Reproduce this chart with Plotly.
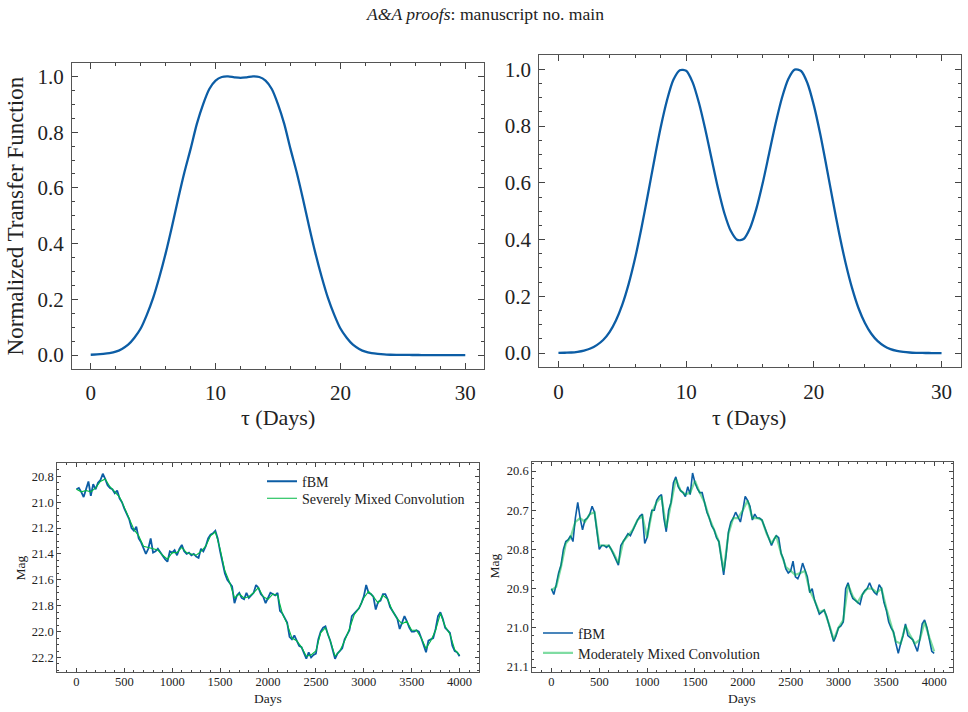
import plotly.graph_objects as go

# ---------------- data ----------------
tau_days = [i * 0.5 for i in range(61)]
tf_severe = [0.001, 0.002, 0.004, 0.007, 0.012, 0.022, 0.037, 0.062, 0.095, 0.145,
             0.205, 0.28, 0.365, 0.46, 0.56, 0.655, 0.74, 0.83, 0.90, 0.955,
             0.985, 0.998, 1.0, 0.997, 0.995, 0.997, 1.0, 0.998, 0.985, 0.955,
             0.90, 0.83, 0.74, 0.655, 0.56, 0.46, 0.365, 0.28, 0.205, 0.145,
             0.095, 0.062, 0.037, 0.022, 0.012, 0.007, 0.004, 0.002, 0.001, 0.0005,
             0.0003, 0.0002, 0.0001, 0.0, 0.0, 0.0, 0.0, 0.0, 0.0, 0.0, 0.0]
tf_moderate = [0.0005, 0.0012, 0.002, 0.0046, 0.009, 0.016, 0.028, 0.046, 0.074, 0.115,
               0.171, 0.244, 0.334, 0.441, 0.558, 0.679, 0.794, 0.891, 0.963, 0.997,
               0.995, 0.955, 0.882, 0.788, 0.683, 0.580, 0.492, 0.430, 0.399, 0.402,
               0.44, 0.509, 0.600, 0.704, 0.808, 0.899, 0.966, 0.999, 0.994, 0.951,
               0.873, 0.772, 0.655, 0.534, 0.418, 0.315, 0.228, 0.158, 0.106, 0.068,
               0.042, 0.025, 0.014, 0.0077, 0.004, 0.002, 0.001, 0.0005, 0.0002, 0.0001, 0.0]

days_fbm = list(range(0, 4001, 25))
days_conv = list(range(0, 4001, 50))

fbm_left = [20.90, 20.89, 20.92, 20.96, 20.90, 20.84, 20.95, 20.86, 20.90, 20.85,
            20.83, 20.78, 20.82, 20.87, 20.89, 20.90, 20.93, 20.91, 20.97, 21.00,
            21.05, 21.09, 21.13, 21.20, 21.22, 21.19, 21.28, 21.31, 21.35, 21.40,
            21.36, 21.28, 21.39, 21.38, 21.36, 21.39, 21.41, 21.44, 21.46, 21.38,
            21.39, 21.37, 21.41, 21.36, 21.33, 21.38, 21.40, 21.39, 21.41, 21.40,
            21.42, 21.43, 21.36, 21.38, 21.34, 21.28, 21.25, 21.24, 21.22, 21.28,
            21.38, 21.46, 21.55, 21.60, 21.63, 21.65, 21.78, 21.72, 21.70, 21.74,
            21.75, 21.70, 21.74, 21.72, 21.70, 21.64, 21.66, 21.71, 21.73, 21.78,
            21.74, 21.70, 21.71, 21.72, 21.70, 21.84, 21.86, 21.89, 21.93, 22.04,
            22.06, 22.03, 22.07, 22.11, 22.12, 22.17, 22.21, 22.16, 22.20, 22.18,
            22.17, 22.06, 22.00, 21.97, 21.96, 22.02, 22.07, 22.14, 22.21, 22.17,
            22.15, 22.13, 22.06, 22.03, 21.99, 21.88, 21.86, 21.84, 21.82, 21.78,
            21.73, 21.64, 21.70, 21.71, 21.73, 21.83, 21.77, 21.76, 21.71, 21.71,
            21.75, 21.81, 21.84, 21.86, 21.90, 21.98, 21.93, 21.88, 21.92, 21.97,
            22.00, 22.00, 21.99, 22.00, 22.05, 22.10, 22.16, 22.07, 22.06, 22.05,
            21.98, 21.88, 21.85, 21.90, 21.97, 21.99, 22.01, 22.11, 22.15, 22.16,
            22.19]
conv_left = [20.90, 20.92, 20.91, 20.92, 20.89, 20.84, 20.82, 20.88, 20.92, 20.96,
             21.04, 21.12, 21.21, 21.26, 21.34, 21.35, 21.36, 21.37, 21.41, 21.44,
             21.39, 21.39, 21.35, 21.39, 21.40, 21.41, 21.38, 21.34, 21.26, 21.23,
             21.36, 21.53, 21.62, 21.74, 21.71, 21.74, 21.73, 21.70, 21.66, 21.73,
             21.75, 21.71, 21.72, 21.86, 21.94, 22.05, 22.07, 22.12, 22.19, 22.18,
             22.15, 22.01, 21.97, 22.07, 22.19, 22.15, 22.07, 21.98, 21.87, 21.82,
             21.74, 21.69, 21.73, 21.78, 21.72, 21.75, 21.84, 21.90, 21.94, 21.92,
             21.99, 21.99, 22.05, 22.13, 22.07, 21.99, 21.86, 21.96, 22.02, 22.14,
             22.18]

fbm_right = [20.90, 20.915, 20.89, 20.86, 20.84, 20.80, 20.78, 20.775, 20.765, 20.78,
             20.72, 20.68, 20.72, 20.75, 20.725, 20.72, 20.71, 20.69, 20.705, 20.755,
             20.80, 20.79, 20.79, 20.795, 20.79, 20.80, 20.815, 20.83, 20.84, 20.79,
             20.78, 20.77, 20.76, 20.765, 20.75, 20.74, 20.725, 20.715, 20.71, 20.785,
             20.77, 20.73, 20.70, 20.70, 20.675, 20.665, 20.66, 20.72, 20.755, 20.70,
             20.68, 20.63, 20.615, 20.64, 20.65, 20.655, 20.665, 20.64, 20.66, 20.605,
             20.63, 20.645, 20.655, 20.655, 20.68, 20.705, 20.72, 20.74, 20.75, 20.77,
             20.78, 20.82, 20.865, 20.815, 20.755, 20.73, 20.72, 20.705, 20.72, 20.73,
             20.70, 20.665, 20.675, 20.69, 20.725, 20.71, 20.72, 20.72, 20.725, 20.74,
             20.76, 20.775, 20.79, 20.775, 20.765, 20.77, 20.81, 20.825, 20.85, 20.86,
             20.855, 20.83, 20.87, 20.875, 20.86, 20.835, 20.855, 20.87, 20.91, 20.90,
             20.93, 20.945, 20.965, 20.96, 20.955, 20.97, 20.99, 21.01, 21.035, 21.02,
             21.00, 20.995, 20.985, 20.90, 20.885, 20.91, 20.925, 20.93, 20.935, 20.94,
             20.915, 20.905, 20.90, 20.885, 20.90, 20.91, 20.915, 20.89, 20.90, 20.935,
             20.955, 20.985, 21.00, 21.01, 21.04, 21.065, 21.04, 21.02, 20.99, 21.02,
             21.025, 21.03, 21.045, 21.06, 21.03, 20.99, 20.98, 21.00, 21.03, 21.06,
             21.065]
conv_right = [20.905, 20.895, 20.845, 20.785, 20.77, 20.73, 20.72, 20.73, 20.71, 20.705,
              20.79, 20.79, 20.79, 20.81, 20.835, 20.78, 20.765, 20.75, 20.725, 20.715,
              20.77, 20.705, 20.68, 20.665, 20.745, 20.685, 20.62, 20.65, 20.66, 20.655,
              20.625, 20.655, 20.68, 20.72, 20.75, 20.78, 20.855, 20.76, 20.72, 20.72,
              20.70, 20.675, 20.72, 20.72, 20.725, 20.76, 20.785, 20.765, 20.81, 20.845,
              20.855, 20.865, 20.86, 20.855, 20.905, 20.93, 20.96, 20.955, 20.99, 21.03,
              21.00, 20.98, 20.89, 20.92, 20.935, 20.915, 20.90, 20.90, 20.91, 20.90,
              20.95, 20.995, 21.035, 21.04, 20.995, 21.02, 21.04, 21.03, 20.985, 21.025,
              21.06]

BLUE = "#0C5DA5"
GREEN = "#00B945"
FONT = "Liberation Serif"
W, H = 968, 712


def dom_x(a, b):
    return [a / W, b / W]


def dom_y(top, bottom):
    return [1 - bottom / H, 1 - top / H]


def axis(domain, rng, tick0, dtick, mtick, fsize, tlen, mlen, anchor, fmt=None, standoff=4):
    d = dict(domain=domain, range=rng, autorange=False, tickmode="linear", tick0=tick0,
             dtick=dtick, ticks="inside", ticklen=tlen, tickwidth=1, tickcolor="#444",
             showline=True, linecolor="#555", linewidth=1.3, mirror="allticks",
             showgrid=False, zeroline=False, anchor=anchor,
             tickfont=dict(family=FONT, size=fsize, color="#222"),
             ticklabelstandoff=standoff,
             minor=dict(tick0=tick0, dtick=mtick, ticks="inside", ticklen=mlen,
                        tickwidth=1, tickcolor="#444", showgrid=False))
    if fmt:
        d["tickformat"] = fmt
    return d


fig = go.Figure()

fig.add_trace(go.Scatter(x=tau_days, y=tf_severe, mode="lines", showlegend=False,
                         line=dict(color=BLUE, width=2.3, shape="spline", smoothing=0.8),
                         xaxis="x", yaxis="y"))
fig.add_trace(go.Scatter(x=tau_days, y=tf_moderate, mode="lines", showlegend=False,
                         line=dict(color=BLUE, width=2.3, shape="spline", smoothing=0.8),
                         xaxis="x2", yaxis="y2"))

fig.add_trace(go.Scatter(x=days_fbm, y=fbm_left, mode="lines", name="fBM",
                         line=dict(color=BLUE, width=1.8), xaxis="x3", yaxis="y3",
                         legend="legend"))
fig.add_trace(go.Scatter(x=days_conv, y=conv_left, mode="lines",
                         name="Severely Mixed Convolution",
                         line=dict(color=GREEN, width=1.1), xaxis="x3", yaxis="y3",
                         legend="legend2"))

fig.add_trace(go.Scatter(x=days_fbm, y=fbm_right, mode="lines", name="fBM",
                         line=dict(color=BLUE, width=1.6), xaxis="x4", yaxis="y4",
                         legend="legend3"))
fig.add_trace(go.Scatter(x=days_conv, y=conv_right, mode="lines",
                         name="Moderately Mixed Convolution", opacity=0.5,
                         line=dict(color=GREEN, width=2.2), xaxis="x4", yaxis="y4",
                         legend="legend4"))


def leg(xpx, ycenter, size):
    return dict(x=xpx / W, y=1 - ycenter / H, xanchor="left", yanchor="middle",
                bgcolor="rgba(0,0,0,0)", tracegroupgap=0,
                font=dict(family=FONT, size=size, color="#222"))


fig.update_layout(
    width=W, height=H, margin=dict(l=0, r=0, t=0, b=0),
    paper_bgcolor="white", plot_bgcolor="white",
    font=dict(family=FONT, color="#222"),
    xaxis=axis(dom_x(72, 484), [-1.5, 31.5], 0, 10, 2, 21, 6, 3, "y", standoff=5),
    yaxis=axis(dom_y(62.7, 370), [-0.05, 1.05], 0, 0.2, 0.05, 21, 6, 3, "x", ".1f", standoff=3),
    xaxis2=axis(dom_x(539.3, 960.7), [-1.5, 31.5], 0, 10, 2, 21, 6, 3, "y2", standoff=5),
    yaxis2=axis(dom_y(55.3, 368.3), [-0.05, 1.05], 0, 0.2, 0.05, 21, 6, 3, "x2", ".1f", standoff=3),
    xaxis3=axis(dom_x(57.3, 478.7), [-200, 4200], 0, 500, 100, 12.5, 4, 2, "y3", standoff=-2),
    yaxis3=axis(dom_y(464.3, 674), [22.313, 20.697], 20, 0.2, 0.05, 12.5, 4, 2, "x3", ".1f", standoff=0),
    xaxis4=axis(dom_x(532.3, 953.3), [-200, 4200], 0, 500, 100, 12.5, 4, 2, "y4", standoff=-2),
    yaxis4=axis(dom_y(463.3, 674), [21.113, 20.577], 20, 0.1, 0.02, 12.5, 4, 2, "x4", ".1f", standoff=0),
    legend=leg(262, 483, 14),
    legend2=leg(262, 500, 14),
    legend3=leg(538, 635, 14.3),
    legend4=leg(538, 655, 14.3),
)

ann = [
    dict(text="<i>A&amp;A proofs</i>: manuscript no. main", x=484.5, y=14, size=17.6, angle=0),
    dict(text="Normalized Transfer Function", x=15, y=217, size=23, angle=-90),
    dict(text="τ (Days)", x=278, y=419, size=22, angle=0),
    dict(text="τ (Days)", x=749, y=419, size=22, angle=0),
    dict(text="Days", x=268, y=700, size=13.5, angle=0),
    dict(text="Mag", x=20, y=570, size=13.5, angle=-90),
    dict(text="Days", x=742, y=700, size=13.5, angle=0),
    dict(text="Mag", x=494, y=568, size=13.5, angle=-90),
]
for a in ann:
    fig.add_annotation(text=a["text"], x=a["x"] / W, y=1 - a["y"] / H, xref="paper", yref="paper",
                       showarrow=False, xanchor="center", yanchor="middle", textangle=a["angle"],
                       font=dict(family=FONT, size=a["size"], color="#222"))

fig.write_html("out.html")
